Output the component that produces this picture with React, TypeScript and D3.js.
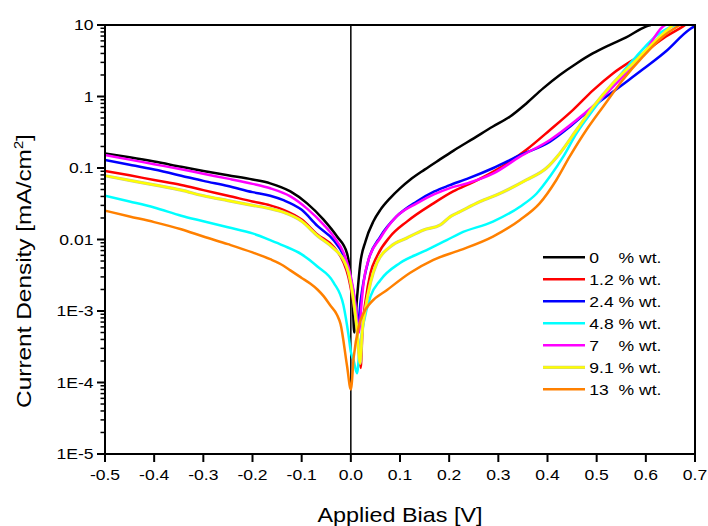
import React from 'react';
import * as d3 from 'd3';

const W = 708;
const H = 526;
const PL = 105, PR = 695, PT = 25, PB = 454;
const SX = 1.17;

const xTickValues = [-0.5, -0.4, -0.3, -0.2, -0.1, 0.0, 0.1, 0.2, 0.3, 0.4, 0.5, 0.6, 0.7];
const xTickLabels = ['-0.5', '-0.4', '-0.3', '-0.2', '-0.1', '0.0', '0.1', '0.2', '0.3', '0.4', '0.5', '0.6', '0.7'];
const yTickValues = [1e-5, 1e-4, 1e-3, 1e-2, 1e-1, 1, 10];
const yTickLabels = ['1E-5', '1E-4', '1E-3', '0.01', '0.1', '1', '10'];

const seriesNumbers = ['0', '1.2', '2.4', '4.8', '7', '9.1', '13'];
const seriesUnit = '% wt.';
const seriesColors = ['#000000', '#ff0000', '#0000ff', '#00ffff', '#ff00ff', '#ffff00', '#ff8000'];

const wt0: [number, number][] = [
  [-0.5, 0.16], [-0.45, 0.141], [-0.4, 0.123], [-0.345, 0.104], [-0.3, 0.091], [-0.25, 0.079], [-0.2, 0.069],
  [-0.164, 0.061], [-0.123, 0.047], [-0.089, 0.032], [-0.055, 0.0188], [-0.028, 0.011],
  [-0.0077, 0.0064], [0, 0.0028], [0.004, 0.0012], [0.007, 0.0005], [0.0125, 0.0015], [0.019, 0.0045],
  [0.03, 0.0095], [0.046, 0.018], [0.06, 0.026], [0.08, 0.038], [0.1, 0.052], [0.12, 0.068], [0.15, 0.095],
  [0.18, 0.13], [0.209, 0.175], [0.25, 0.26], [0.289, 0.38], [0.324, 0.525], [0.357, 0.8], [0.391, 1.3],
  [0.425, 2.0], [0.459, 2.9], [0.492, 4.0], [0.526, 5.25], [0.56, 6.7], [0.6, 9.5], [0.61, 10],
];
const wt12: [number, number][] = [
  [-0.5, 0.091], [-0.45, 0.079], [-0.4, 0.068], [-0.345, 0.058], [-0.3, 0.049], [-0.25, 0.041], [-0.2, 0.034],
  [-0.164, 0.03], [-0.137, 0.026], [-0.1, 0.019], [-0.068, 0.0118], [-0.035, 0.0079], [-0.015, 0.0048],
  [-0.005, 0.003], [0.005, 0.0013], [0.012, 0.0006], [0.016, 0.0003], [0.02, 0.00016], [0.024, 0.0006],
  [0.03, 0.0014], [0.04, 0.0034], [0.053, 0.0058], [0.08, 0.011], [0.114, 0.0178], [0.168, 0.032],
  [0.208, 0.047], [0.25, 0.064], [0.29, 0.089], [0.357, 0.18], [0.405, 0.34], [0.452, 0.65], [0.493, 1.23],
  [0.533, 2.1], [0.594, 4.0], [0.641, 6.9], [0.675, 9.5], [0.68, 10],
];
const wt24: [number, number][] = [
  [-0.5, 0.129], [-0.45, 0.111], [-0.4, 0.095], [-0.345, 0.078], [-0.3, 0.066], [-0.25, 0.056], [-0.2, 0.046],
  [-0.164, 0.041], [-0.137, 0.0355], [-0.1, 0.026], [-0.068, 0.0155], [-0.035, 0.0098], [-0.015, 0.006],
  [-0.005, 0.0038], [0.005, 0.0019], [0.011, 0.001], [0.015, 0.0007], [0.02, 0.0014], [0.026, 0.0026],
  [0.036, 0.0052], [0.06, 0.011], [0.093, 0.021], [0.134, 0.034], [0.17, 0.047], [0.2, 0.057], [0.24, 0.072],
  [0.29, 0.1], [0.345, 0.152], [0.405, 0.233], [0.446, 0.38], [0.493, 0.72], [0.547, 1.37], [0.594, 2.4],
  [0.641, 4.3], [0.688, 8.6], [0.7, 9.7],
];
const wt48: [number, number][] = [
  [-0.5, 0.041], [-0.45, 0.034], [-0.4, 0.028], [-0.345, 0.0215], [-0.3, 0.018], [-0.25, 0.0148], [-0.2, 0.0122],
  [-0.164, 0.0098], [-0.137, 0.0082], [-0.1, 0.0062], [-0.068, 0.0042], [-0.035, 0.0025], [-0.015, 0.0012],
  [-0.0045, 0.00045], [0, 0.00027], [0.006, 0.0002], [0.0125, 0.000135], [0.018, 0.0003], [0.026, 0.00068],
  [0.04, 0.0016], [0.06, 0.0027], [0.1, 0.0047], [0.148, 0.0068], [0.195, 0.0098], [0.222, 0.0122],
  [0.289, 0.0178], [0.344, 0.0288], [0.378, 0.044], [0.405, 0.076], [0.432, 0.144], [0.459, 0.305],
  [0.493, 0.65], [0.533, 1.5], [0.58, 3.6], [0.628, 7.7], [0.66, 10],
];
const wt7: [number, number][] = [
  [-0.5, 0.152], [-0.45, 0.131], [-0.4, 0.113], [-0.345, 0.096], [-0.3, 0.083], [-0.25, 0.071], [-0.2, 0.06],
  [-0.164, 0.052], [-0.123, 0.04], [-0.089, 0.027], [-0.055, 0.016], [-0.035, 0.011], [-0.015, 0.0066],
  [-0.005, 0.0042], [0.005, 0.002], [0.012, 0.0009], [0.017, 0.0005], [0.021, 0.0011], [0.026, 0.0025],
  [0.036, 0.0052], [0.06, 0.0105], [0.093, 0.021], [0.134, 0.032], [0.17, 0.043], [0.2, 0.052], [0.24, 0.062],
  [0.29, 0.084], [0.344, 0.144], [0.405, 0.247], [0.459, 0.47], [0.506, 0.89], [0.553, 1.9], [0.594, 3.8],
  [0.635, 9.5], [0.64, 10],
];
const wt91: [number, number][] = [
  [-0.5, 0.078], [-0.45, 0.067], [-0.4, 0.058], [-0.345, 0.049], [-0.3, 0.041], [-0.25, 0.035], [-0.2, 0.03],
  [-0.164, 0.027], [-0.137, 0.024], [-0.1, 0.018], [-0.068, 0.0113], [-0.035, 0.0075], [-0.015, 0.0052],
  [-0.005, 0.0035], [0.005, 0.0015], [0.012, 0.0006], [0.019, 0.000185], [0.023, 0.0005], [0.029, 0.001],
  [0.04, 0.0025], [0.053, 0.0047], [0.08, 0.0079], [0.114, 0.0105], [0.148, 0.0136], [0.182, 0.016],
  [0.203, 0.021], [0.222, 0.0245], [0.263, 0.034], [0.303, 0.044], [0.357, 0.068], [0.398, 0.1],
  [0.425, 0.16], [0.459, 0.34], [0.493, 0.72], [0.533, 1.53], [0.574, 2.9], [0.614, 5.5], [0.655, 10],
];
const wt13: [number, number][] = [
  [-0.5, 0.0253], [-0.45, 0.021], [-0.4, 0.0175], [-0.345, 0.0139], [-0.3, 0.011], [-0.25, 0.0086],
  [-0.2, 0.0066], [-0.164, 0.0053], [-0.137, 0.0043], [-0.123, 0.0037], [-0.1, 0.0029], [-0.082, 0.0024],
  [-0.068, 0.002], [-0.055, 0.0016], [-0.042, 0.0012], [-0.028, 0.00088], [-0.021, 0.00066],
  [-0.0077, 0.00017], [0, 0.00008], [0.006, 0.00023], [0.016, 0.0006],
  [0.026, 0.00094], [0.04, 0.0013], [0.073, 0.00195], [0.12, 0.0034], [0.168, 0.0052], [0.222, 0.0071],
  [0.289, 0.011], [0.344, 0.0188], [0.384, 0.032], [0.418, 0.068], [0.445, 0.144], [0.479, 0.34],
  [0.513, 0.72], [0.553, 1.7], [0.594, 3.6], [0.635, 6.9], [0.669, 10],
];

const seriesData = [wt0, wt12, wt24, wt48, wt7, wt91, wt13];

const FONT = "'Liberation Sans', Arial, sans-serif";

export default function App() {
  const x = d3.scaleLinear().domain([-0.5, 0.7]).range([PL, PR]);
  const y = d3.scaleLog().domain([1e-5, 10]).range([PB, PT]);
  const line = d3
    .line<[number, number]>()
    .x((d) => x(d[0]))
    .y((d) => y(d[1]))
    .curve(d3.curveMonotoneX);

  const minorTicks: number[] = [];
  for (let e = -5; e < 1; e++) {
    for (let k = 2; k <= 9; k++) minorTicks.push(k * Math.pow(10, e));
  }

  const legendY0 = 257.3;
  const legendDy = 22;

  return (
    <svg width={W} height={H} style={{ position: 'absolute', left: 0, top: 0, background: '#fff' }} fontFamily={FONT}>
      <rect x={0} y={0} width={W} height={H} fill="#fff" />
      <defs>
        <clipPath id="plotClip">
          <rect x={PL} y={PT} width={PR - PL} height={PB - PT} />
        </clipPath>
      </defs>
      <line x1={x(0)} x2={x(0)} y1={PT} y2={PB} stroke="#000" strokeWidth={1.5} />
      <g clipPath="url(#plotClip)">
        {seriesData.map((d, i) => (
          <g key={i}>
            {seriesColors[i] === '#ffff00' && (
              <path d={line(d) || ''} fill="none" stroke="#c8c890" strokeWidth={3.2} strokeLinejoin="round" />
            )}
            <path
              d={line(d) || ''}
              fill="none"
              stroke={seriesColors[i]}
              strokeWidth={seriesColors[i] === '#ffff00' ? 2.2 : 2.5}
              strokeLinejoin="round"
            />
          </g>
        ))}
      </g>
      <rect x={PL} y={PT} width={PR - PL} height={PB - PT} fill="none" stroke="#000" strokeWidth={2} />
      {xTickValues.map((v, i) => (
        <g key={'xt' + i}>
          <line x1={x(v)} x2={x(v)} y1={PB} y2={PB + 8} stroke="#000" strokeWidth={2} />
          <text
            transform={`translate(${x(v)}, ${479.5}) scale(${SX}, 1)`}
            textAnchor="middle"
            fontSize={15}
            fill="#000"
          >
            {xTickLabels[i]}
          </text>
        </g>
      ))}
      {yTickValues.map((v, i) => (
        <g key={'yt' + i}>
          <line x1={PL - 8} x2={PL} y1={y(v)} y2={y(v)} stroke="#000" strokeWidth={2} />
          <text
            transform={`translate(${93.5}, ${y(v) + 5.3}) scale(${SX}, 1)`}
            textAnchor="end"
            fontSize={15}
            fill="#000"
          >
            {yTickLabels[i]}
          </text>
        </g>
      ))}
      {minorTicks.map((v, i) => (
        <line key={'ym' + i} x1={PL - 4.5} x2={PL} y1={y(v)} y2={y(v)} stroke="#000" strokeWidth={1.5} />
      ))}
      <text transform={`translate(400, 521.5) scale(${SX}, 1)`} textAnchor="middle" fontSize={20} fill="#000">
        Applied Bias [V]
      </text>
      <text transform={`translate(31, 271) rotate(-90) scale(1.22, 1)`} textAnchor="middle" fontSize={20} fill="#000">
        Current Density [mA/cm<tspan dy={-8} fontSize={12}>2</tspan><tspan dy={8}>]</tspan>
      </text>
      {seriesNumbers.map((n, i) => {
        const ly = legendY0 + i * legendDy;
        return (
          <g key={'lg' + i}>
            {seriesColors[i] === '#ffff00' && (
              <line x1={543} x2={585} y1={ly} y2={ly} stroke="#c8c890" strokeWidth={3.2} />
            )}
            <line x1={543} x2={585} y1={ly} y2={ly} stroke={seriesColors[i]} strokeWidth={seriesColors[i] === '#ffff00' ? 2.2 : 2.5} />
            <text transform={`translate(589.3, ${ly + 5.3}) scale(${SX}, 1)`} fontSize={15} fill="#000">
              {n}
            </text>
            <text transform={`translate(618.5, ${ly + 5.3}) scale(${SX}, 1)`} fontSize={15} fill="#000">
              {seriesUnit}
            </text>
          </g>
        );
      })}
    </svg>
  );
}
